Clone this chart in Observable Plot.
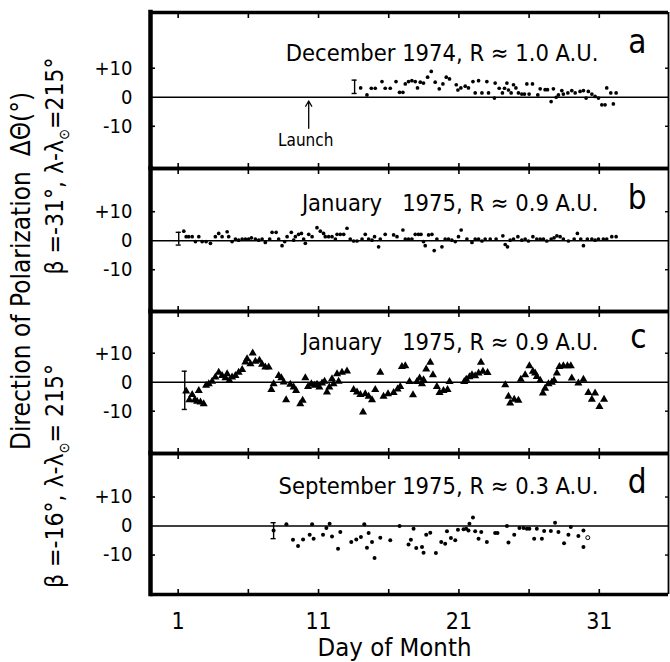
<!DOCTYPE html>
<html><head><meta charset="utf-8">
<script src="https://cdn.jsdelivr.net/npm/d3@7"></script>
<script src="https://cdn.jsdelivr.net/npm/@observablehq/plot@0.6"></script>
<style>
body{margin:0;background:#fff;}
#chart{position:relative;width:670px;height:662px;overflow:hidden;font-family:"DejaVu Sans Condensed","DejaVu Sans",sans-serif;color:#000;}
#chart svg{position:absolute;left:0;}
.ylab{position:absolute;transform:translate(-50%,-50%) rotate(-90deg);white-space:nowrap;font-size:24px;line-height:1;}
.ylab sub{font-size:0.6em;}
</style>
</head><body>
<div id="chart">
  <div class="ylab" style="left:21px;top:271px;font-size:26px">Direction of Polarization&nbsp;&nbsp;ΔΘ(°)</div>
  <div class="ylab" style="left:57px;top:166px;font-size:24.5px">β =-31°, λ-λ<sub>⊙</sub>=215°</div>
  <div class="ylab" style="left:57px;top:476px;font-size:24.5px">β =-16°, λ-λ<sub>⊙</sub>= 215°</div>
</div>
<script>
// ---- data (day of month, ΔΘ in degrees) ----
const xTicks = [1, 6, 11, 16, 21, 26, 31];
const xLabels = [1, 11, 21, 31];
const yTicks = [-10, 0, 10];
const yMinorTicks = [-10, 10];

const panelTitles = ["December 1974, R ≈ 1.0 A.U.", "January   1975, R ≈ 0.9 A.U.", "January   1975, R ≈ 0.9 A.U.", "September 1975, R ≈ 0.3 A.U."];
const panelLetters = ["a", "b", "c", "d"];

const dec1974 = [[14.0,3.2],[14.45,0.8],[14.76,3.1],[15.04,3.1],[15.52,5.4],[15.75,3.1],[16.11,3.1],[16.52,5.4],[16.77,1.7],[17.01,1.7],[17.18,4.6],[17.41,5.4],[17.65,5.7],[17.89,5.4],[18.05,3.2],[18.25,5.2],[18.48,4.9],[18.77,6.9],[19.03,8.9],[19.31,5.2],[19.6,2.9],[19.86,4.6],[20.1,6.9],[20.33,6.3],[20.81,4.3],[20.93,2.5],[21.14,3.2],[21.45,3.8],[21.68,3.2],[22.0,5.4],[22.16,1.5],[22.4,5.7],[22.64,1.5],[22.99,5.4],[23.11,1.5],[23.53,-0.3],[23.58,4.9],[23.87,3.1],[24.1,1.5],[24.25,3.1],[24.42,4.9],[24.53,2.5],[24.72,1.5],[24.89,4.3],[25.06,3.2],[25.24,1.5],[25.48,1.1],[25.67,1.1],[25.84,4.6],[26.0,1.1],[26.24,4.6],[26.62,0.8],[26.79,2.9],[27.14,2.6],[27.31,2.6],[27.57,-1.5],[27.73,2.9],[27.93,0],[28.09,0.8],[28.33,2.3],[28.44,1.1],[28.76,1.5],[29.04,2.3],[29.28,1.5],[29.63,2.0],[29.87,2.3],[30.06,-0.3],[30.22,2.0],[30.47,1.1],[30.7,0.3],[30.94,-0.3],[31.18,-2.6],[31.41,-2.6],[31.53,3.2],[31.82,1.5],[32.0,-2.3],[32.2,1.5]];

const jan1975b = [[1.40,3.3],[1.57,1.4],[1.75,1.4],[2.0,1.4],[2.23,-0.3],[2.47,1.4],[2.71,-0.3],[2.99,-0.3],[3.30,-0.9],[3.65,1.4],[3.89,2.5],[4.13,1.4],[4.49,3.1],[4.60,1.4],[4.84,-0.3],[5.08,0.6],[5.31,0.2],[5.56,0.6],[5.79,0.6],[6.02,0.6],[6.22,1.0],[6.50,0.6],[6.74,0.2],[6.98,0.6],[7.21,-0.6],[7.52,0.6],[7.69,2.9],[7.98,2.9],[8.16,0.6],[8.40,-1.7],[8.59,-0.3],[8.76,1.4],[9.06,2.9],[9.23,0.2],[9.35,1.4],[9.58,2.2],[9.78,2.5],[9.94,0.6],[10.06,-0.9],[10.30,2.2],[10.54,1.4],[10.89,4.5],[11.13,3.3],[11.36,2.5],[11.48,1.4],[11.72,1.4],[11.96,1.4],[12.20,0.6],[12.32,2.2],[12.55,2.2],[12.79,2.2],[13.03,4.3],[13.26,0.6],[13.50,-0.1],[13.74,-0.1],[14.10,0.6],[14.33,2.2],[14.57,0.6],[14.81,0.2],[14.99,1.4],[15.28,-2.1],[15.40,0.6],[15.75,2.2],
[16.35,2.0],[16.59,1.4],[17.01,3.7],[17.18,0.6],[17.41,0.6],[17.65,0.6],[17.89,2.2],[18.12,2.2],[18.30,2.2],[18.48,-0.3],[18.60,-1.7],[18.84,2.0],[19.08,2.2],[19.24,-3.4],[19.43,0.6],[19.79,-2.1],[20.02,0.6],[20.26,0.6],[20.50,0.2],[20.74,-0.3],[20.97,1.4],[21.16,3.7],[21.57,0.6],[21.93,-0.6],[22.16,0.6],[22.40,0.6],[22.64,-0.1],[22.87,0.6],[23.23,0.6],[23.65,0.6],[24.13,1.7],[24.30,-1.3],[24.46,-2.1],[24.65,0.2],[24.89,0.6],[25.20,1.4],[25.48,0.2],[25.72,0.6],[25.95,-0.1],[26.27,1.4],[26.55,0.6],[26.79,0.6],[27.02,0.6],[27.26,-0.1],[27.57,0.6],[27.78,1.0],[27.98,1.7],[28.21,1.4],[28.44,0.6],[28.80,-0.1],[29.21,0.6],[29.44,2.5],[29.68,0.6],[29.87,-1.7],[30.15,0.6],[30.47,0.6],[30.70,0.2],[30.94,0.6],[31.29,0.6],[31.53,0.6],[31.89,1.4],[32.20,1.4]];

const jan1975c = [[1.57,-3.1],[1.80,-6.1],[2.00,-4.3],[2.18,-6.1],[2.35,-6.6],[2.59,-6.9],[2.82,-7.5],[2.47,-2.9],[2.99,-1.1],[3.18,-0.6],[3.42,0.3],[3.65,1.7],[3.89,3.4],[4.13,2.3],[4.37,1.5],[4.49,2.9],[4.65,0.6],[4.84,1.7],[5.08,2.3],[5.31,3.4],[5.56,4.3],[5.79,6.9],[5.91,8.0],[6.15,6.3],[6.31,10.0],[6.50,7.2],[6.79,7.5],[6.98,6.1],[7.21,5.2],[7.45,5.2],[7.64,-2.6],[7.80,-0.6],[8.16,2.3],[8.35,1.5],[8.52,0],[8.69,-6.1],[8.99,-0.8],[9.23,-1.7],[9.40,-2.9],[9.70,-7.5],[9.87,-6.3],[10.06,1.5],[10.25,-1.5],[10.49,-0.6],[10.72,-1.1],[10.89,-0.8],[11.06,-1.7],[11.25,-0.3],[11.43,0.3],[11.60,-3.4],[11.77,-1.7],[11.96,1.1],[12.07,-0.6],[12.32,2.9],[12.43,0.3],[12.67,3.4],[13.03,3.8],[13.50,-2.6],[13.74,-3.4],[13.98,-4.3],[14.17,-10.3],[14.33,-4.0],[14.57,-4.9],[14.81,-6.1],[15.04,-2.6],[15.40,3.4],[15.63,-4.9],[15.95,-4.0],
[16.35,-3.6],[16.63,-2.4],[16.82,-1.5],[16.94,5.4],[17.18,5.6],[17.48,0.2],[17.73,-4.4],[18.01,0.2],[18.20,1.4],[18.37,-0.6],[18.48,0.8],[18.67,4.5],[18.96,6.8],[19.15,2.5],[19.43,-1.5],[19.62,-3.6],[19.90,-2.9],[20.19,-2.6],[20.33,0.2],[21.38,0.2],[21.52,1.0],[21.75,1.8],[21.93,2.5],[22.16,2.2],[22.40,3.1],[22.57,6.8],[22.71,3.7],[23.04,3.3],[24.30,-0.9],[24.53,-4.9],[24.65,-7.2],[24.94,-5.9],[25.24,-6.3],[25.41,1.0],[25.72,2.5],[26.02,5.6],[26.27,3.7],[26.43,3.1],[26.55,1.9],[26.79,0.6],[26.98,-3.8],[27.14,-2.1],[27.38,-0.6],[27.62,-0.1],[27.78,0.6],[27.98,3.1],[28.16,5.4],[28.44,5.6],[28.73,5.6],[28.97,5.6],[29.04,1.4],[29.51,-0.3],[29.87,1.0],[30.22,-3.6],[30.47,-5.9],[30.70,-3.8],[31.01,-8.4],[31.34,-5.9]];

const sep1975 = [[7.80,-1.5],[8.71,0.6],[9.18,-4.7],[9.54,-6.9],[9.90,-4.6],[10.37,-3.0],[10.54,0.6],[10.65,-4.4],[11.32,-3.0],[11.56,-0.7],[11.79,0.8],[11.96,-3.6],[12.39,-7.8],[12.55,-2.1],[13.33,-5.5],[13.69,-4.6],[14.02,-3.8],[14.26,0.6],[14.45,-7.5],[14.57,-2.4],[14.81,-5.5],[14.99,-11.0],[15.40,-4.0],[16.11,-4.9],[16.77,0],[17.41,-6.4],[17.58,-4.7],[17.77,-0.9],[17.96,-7.6],[18.37,-7.2],[18.48,-9.2],[18.67,-3.0],[18.96,-2.3],[19.36,-9.3],[19.74,-5.5],[20.02,-6.1],[20.15,-1.8],[20.43,-4.1],[20.74,-4.9],[20.93,-1.3],[21.33,-1.1],[21.52,-0.9],[21.68,-1.5],[21.75,0.8],[22.00,2.9],[22.16,-1.8],[22.40,-4.4],[22.59,-2.1],[22.99,-5.5],[23.58,-2.4],[23.75,-2.4],[24.42,0],[24.53,-5.7],[24.94,-3.0],[25.31,-0.7],[25.60,-0.7],[25.84,-0.9],[26.02,-0.9],[26.36,-4.4],[26.55,-0.9],[26.91,-4.4],[27.07,-1.7],[27.55,-1.7],[27.85,1.1],[28.09,-2.1],[28.49,-5.9],[28.80,-3.0],[28.97,-0.3],[29.51,-3.4],[29.87,-1.5],[29.87,-7.2]];
const sep1975Open = [[30.18,-4.0]];

// error bars per panel: day, centre value, half-width (degrees)
const errorDay = [13.57, 1.04, 1.47, 7.80];
const errorMid = [3.6, 0.7, -2.8, -1.6];
const errorHalf = [2.3, 2.2, 6.6, 2.75];

const launchDay = 10.3;
const launchArrow = [-10.7, -1.3];
const launchLabelY = -14.8;

// ---- layout ----
const xDomain = [-0.97, 35.93];
const frames = [[12, 168], [168, 311], [311, 453], [453, 594]];
const yDomains = [[-24.55, 29.2], [-24.4, 24.9], [-24.6, 24.4], [-23.6, 25.0]];
const titleDy = [48, 42, 38, 40];
const letterDy = [40, 40, 36, 39];
const series = [dec1974, jan1975b, jan1975c, sep1975];

const fmtY = d => d > 0 ? "+" + d : d < 0 ? "-" + (-d) : "0";
const font = '"DejaVu Sans Condensed","DejaVu Sans",sans-serif';
const chart = document.getElementById("chart");

series.forEach((pts, i) => {
  const last = i === 3;
  const mt = 8, mb = last ? 68 : 8;
  const [ft, fb] = frames[i];
  const height = mt + (fb - ft) + mb;
  const data = pts.map(([day, value]) => ({day, value}));
  const eb = {day: errorDay[i], lo: errorMid[i] - errorHalf[i], hi: errorMid[i] + errorHalf[i]};
  const marks = [
    Plot.ruleY([0], {strokeWidth: 1.4}),
    Plot.axisX({anchor: "top", ticks: xTicks, tickSize: 5, dy: 5, tickFormat: () => "", strokeWidth: 1.6, label: null}),
    Plot.axisX({anchor: "bottom", ticks: xTicks, tickSize: 5, dy: -5, tickFormat: () => "", strokeWidth: 1.6, label: null}),
    Plot.axisY({anchor: "left", ticks: yMinorTicks, tickSize: 5, dx: 5, tickFormat: () => "", strokeWidth: 1.6, label: null}),
    Plot.axisY({anchor: "right", ticks: yMinorTicks, tickSize: 4, dx: -4, tickFormat: () => "", strokeWidth: 1.4, label: null}),
    Plot.axisY({anchor: "left", ticks: yTicks, tickSize: 0, tickPadding: 18, tickFormat: fmtY, fontSize: 20, label: null}),
    Plot.ruleX([xDomain[0]], {strokeWidth: 4.5, strokeLinecap: "square"}),
    Plot.ruleX([xDomain[1]], {strokeWidth: 1.8}),
    Plot.ruleY([yDomains[i][1]], {strokeWidth: 3.6}),
    Plot.ruleY([yDomains[i][0]], {strokeWidth: 3.6}),
    Plot.ruleX([eb], {x: "day", y1: "lo", y2: "hi", strokeWidth: 1.4}),
    Plot.ruleY([eb.lo, eb.hi], {x1: () => eb.day - 0.18, x2: () => eb.day + 0.18, strokeWidth: 1.4}),
    i === 2
      ? Plot.dot(data, {x: "day", y: "value", symbol: "triangle", r: 3.0, fill: "black"})
      : Plot.dot(data, {x: "day", y: "value", r: last ? 2.0 : 1.85, fill: "black"}),
    Plot.text([panelTitles[i]], {frameAnchor: "top-right", text: d => d, textAnchor: "end", lineAnchor: "bottom", dx: -70, dy: titleDy[i], fontSize: 23.5}),
    Plot.text([panelLetters[i]], {frameAnchor: "top-right", text: d => d, textAnchor: "end", lineAnchor: "bottom", dx: -22, dy: letterDy[i], fontSize: 33})
  ];
  if (i === 0) {
    marks.push(Plot.arrow([launchDay], {x1: d => d, x2: d => d, y1: () => launchArrow[0], y2: () => launchArrow[1], headLength: 7, strokeWidth: 1.3}));
    marks.push(Plot.text(["Launch"], {x: () => launchDay, y: () => launchLabelY, text: d => d, dx: -3, fontSize: 17}));
  }
  if (i === 3) {
    marks.push(Plot.dot(sep1975Open.map(([day, value]) => ({day, value})), {x: "day", y: "value", r: 2.0, fill: "white", stroke: "black", strokeWidth: 1}));
    marks.push(Plot.axisX({anchor: "bottom", ticks: xLabels, tickSize: 0, tickPadding: 18, fontSize: 23, label: null}));
    marks.push(Plot.text(["Day of Month"], {frameAnchor: "bottom", text: d => d, lineAnchor: "bottom", dx: -15, dy: 61, fontSize: 25.5}));
  }
  const svg = Plot.plot({
    width: 670, height, marginLeft: 150, marginRight: 2, marginTop: mt, marginBottom: mb,
    x: {domain: xDomain, label: null},
    y: {domain: yDomains[i], label: null},
    style: {background: "transparent", fontFamily: font, color: "black", overflow: "visible"},
    marks
  });
  svg.style.top = (ft - mt) + "px";
  chart.appendChild(svg);
});
</script>
</body></html>
